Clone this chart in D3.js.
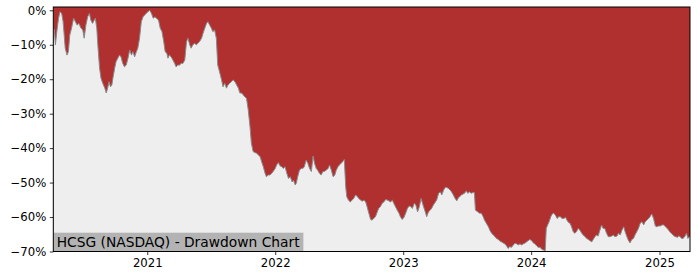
<!DOCTYPE html>
<html lang="en">
<head>
<meta charset="UTF-8">
<title>HCSG Drawdown</title>
<script src="https://cdn.jsdelivr.net/npm/d3@7"></script>
<style>
  body { margin: 0; background: #fff; }
  svg text { font-family: "DejaVu Sans", sans-serif; fill: #000; }
</style>
</head>
<body>
<svg id="chart"></svg>
<script>
var W = 700, H = 280;
var margin = {left: 53.3, right: 10, top: 7, bottom: 28.5};

var title = "HCSG (NASDAQ) - Drawdown Chart";
var yTicks = [0, -10, -20, -30, -40, -50, -60, -70];
var xTicks = ["2021-01-01", "2022-01-01", "2023-01-01", "2024-01-01", "2025-01-01"];

// drawdown in percent
var dates = [
  "2020-04-08","2020-04-11","2020-04-14","2020-04-18","2020-04-23","2020-04-27","2020-05-02","2020-05-06","2020-05-12","2020-05-17",
  "2020-05-21","2020-05-25","2020-05-30","2020-06-05","2020-06-10","2020-06-15","2020-06-20","2020-06-26","2020-07-01","2020-07-05",
  "2020-07-10","2020-07-15","2020-07-20","2020-07-24","2020-07-29","2020-08-03","2020-08-06","2020-08-10","2020-08-13","2020-08-18",
  "2020-08-22","2020-08-27","2020-09-02","2020-09-06","2020-09-10","2020-09-14","2020-09-18","2020-09-22","2020-09-25","2020-09-30",
  "2020-10-04","2020-10-09","2020-10-14","2020-10-18","2020-10-23","2020-10-28","2020-11-02","2020-11-07","2020-11-12","2020-11-17",
  "2020-11-21","2020-11-26","2020-12-01","2020-12-05","2020-12-10","2020-12-15","2020-12-20","2020-12-24","2020-12-29","2021-01-03",
  "2021-01-08","2021-01-13","2021-01-18","2021-01-23","2021-01-27","2021-02-02","2021-02-07","2021-02-12","2021-02-17","2021-02-21",
  "2021-02-26","2021-03-01","2021-03-05","2021-03-10","2021-03-15","2021-03-20","2021-03-24","2021-03-29","2021-04-03","2021-04-08",
  "2021-04-13","2021-04-18","2021-04-23","2021-04-27","2021-05-02","2021-05-06","2021-05-11","2021-05-16","2021-05-21","2021-05-25",
  "2021-05-30","2021-06-05","2021-06-09","2021-06-14","2021-06-19","2021-06-23","2021-06-28","2021-07-03","2021-07-07","2021-07-12",
  "2021-07-17","2021-07-21","2021-07-26","2021-08-01","2021-08-05","2021-08-10","2021-08-15","2021-08-19","2021-08-24","2021-08-29",
  "2021-09-03","2021-09-08","2021-09-13","2021-09-18","2021-09-22","2021-09-27","2021-10-02","2021-10-06","2021-10-11","2021-10-16",
  "2021-10-21","2021-10-25","2021-10-30","2021-11-04","2021-11-09","2021-11-14","2021-11-19","2021-11-23","2021-11-28","2021-12-03",
  "2021-12-07","2021-12-12","2021-12-17","2021-12-22","2021-12-26","2022-01-01","2022-01-05","2022-01-10","2022-01-15","2022-01-20",
  "2022-01-24","2022-01-29","2022-02-03","2022-02-08","2022-02-13","2022-02-18","2022-02-22","2022-02-27","2022-03-02","2022-03-06",
  "2022-03-11","2022-03-16","2022-03-21","2022-03-25","2022-03-30","2022-04-04","2022-04-09","2022-04-14","2022-04-19","2022-04-23",
  "2022-04-28","2022-05-02","2022-05-07","2022-05-12","2022-05-17","2022-05-21","2022-05-26","2022-06-01","2022-06-05","2022-06-10",
  "2022-06-15","2022-06-20","2022-06-24","2022-06-29","2022-07-03","2022-07-08","2022-07-13","2022-07-17","2022-07-21","2022-07-24",
  "2022-07-29","2022-08-03","2022-08-08","2022-08-13","2022-08-18","2022-08-22","2022-08-27","2022-09-02","2022-09-06","2022-09-11",
  "2022-09-16","2022-09-20","2022-09-25","2022-09-30","2022-10-04","2022-10-09","2022-10-14","2022-10-19","2022-10-23","2022-10-28",
  "2022-11-02","2022-11-07","2022-11-12","2022-11-17","2022-11-21","2022-11-26","2022-12-01","2022-12-05","2022-12-10","2022-12-15",
  "2022-12-20","2022-12-24","2022-12-29","2023-01-03","2023-01-08","2023-01-13","2023-01-18","2023-01-23","2023-01-27","2023-02-02",
  "2023-02-06","2023-02-11","2023-02-16","2023-02-21","2023-02-25","2023-02-28","2023-03-05","2023-03-09","2023-03-14","2023-03-19",
  "2023-03-23","2023-03-28","2023-04-03","2023-04-07","2023-04-12","2023-04-17","2023-04-21","2023-04-26","2023-05-01","2023-05-05",
  "2023-05-10","2023-05-15","2023-05-19","2023-05-24","2023-05-29","2023-06-03","2023-06-08","2023-06-11","2023-06-16","2023-06-21",
  "2023-06-25","2023-06-30","2023-07-04","2023-07-09","2023-07-14","2023-07-19","2023-07-23","2023-07-26","2023-08-02","2023-08-07",
  "2023-08-12","2023-08-17","2023-08-21","2023-08-26","2023-09-01","2023-09-05","2023-09-10","2023-09-15","2023-09-20","2023-09-24",
  "2023-09-29","2023-10-03","2023-10-08","2023-10-13","2023-10-18","2023-10-23","2023-10-27","2023-11-01","2023-11-06","2023-11-11",
  "2023-11-16","2023-11-21","2023-11-25","2023-11-30","2023-12-05","2023-12-09","2023-12-14","2023-12-19","2023-12-23","2023-12-28",
  "2024-01-03","2024-01-07","2024-01-12","2024-01-17","2024-01-21","2024-01-26","2024-02-01","2024-02-05","2024-02-10","2024-02-13",
  "2024-02-17","2024-02-21","2024-02-26","2024-03-01","2024-03-05","2024-03-10","2024-03-15","2024-03-20","2024-03-24","2024-03-29",
  "2024-04-03","2024-04-08","2024-04-13","2024-04-18","2024-04-21","2024-04-25","2024-04-30","2024-05-04","2024-05-09","2024-05-14",
  "2024-05-19","2024-05-23","2024-05-28","2024-06-03","2024-06-07","2024-06-12","2024-06-17","2024-06-22","2024-06-26","2024-07-01",
  "2024-07-05","2024-07-10","2024-07-15","2024-07-20","2024-07-24","2024-07-29","2024-08-03","2024-08-08","2024-08-13","2024-08-18",
  "2024-08-22","2024-08-27","2024-09-02","2024-09-06","2024-09-11","2024-09-16","2024-09-21","2024-09-25","2024-09-30","2024-10-04",
  "2024-10-09","2024-10-14","2024-10-19","2024-10-23","2024-10-28","2024-11-02","2024-11-07","2024-11-12","2024-11-17","2024-11-21",
  "2024-11-26","2024-12-01","2024-12-05","2024-12-10","2024-12-15","2024-12-20","2024-12-24","2024-12-29","2025-01-03","2025-01-08",
  "2025-01-13","2025-01-18","2025-01-23","2025-01-27","2025-02-01","2025-02-06","2025-02-11","2025-02-16","2025-02-21","2025-02-25",
  "2025-03-01","2025-03-05","2025-03-09","2025-03-14","2025-03-19","2025-03-23","2025-03-29"
];
var drawdown = [
  -5.3,-5.7,-10,-6.2,-2.3,-0.4,-0.9,-3.3,-11,-13,
  -12,-7.2,-5.2,-2.3,-3.3,-4.3,-3.8,-5.2,-5.7,-8.1,
  -4.3,-1.9,-0.9,-2.8,-3.8,-2.8,-2.3,-5.2,-10,-16.8,
  -19.7,-21.2,-22.6,-24,-22.6,-20.7,-22.2,-21.7,-19.7,-16.8,
  -14.9,-13.9,-13,-13.5,-15.4,-16.4,-15.9,-13.9,-11.5,-13,
  -12,-13.5,-12,-11,-8.1,-3.3,-1.9,-1.4,-0.9,-0.4,
  0,-0.9,-2.3,-1.9,-2.3,-2.8,-5.2,-6.2,-9.1,-12,
  -12.5,-13.9,-13,-13.5,-14.4,-15.4,-16.4,-15.9,-15.9,-15.4,
  -15.4,-14.4,-9.1,-8.1,-10,-11,-10,-9.6,-10,-9.6,
  -9.1,-8.1,-6.7,-5.2,-3.8,-3.3,-4.3,-5.2,-6.2,-5.7,
  -8.1,-15.9,-17.8,-20.2,-22.2,-21.2,-22.6,-21.7,-21.2,-20.7,
  -20.2,-20.7,-21.7,-22.6,-24,-24,-24.6,-25.1,-25.5,-28.9,
  -33.8,-38.6,-41,-41.3,-41.5,-42,-42.5,-43.9,-45.4,-47.3,
  -48.3,-47.8,-47.8,-47.3,-46.8,-45.9,-44.9,-44.2,-45.2,-45.4,
  -45.9,-45.4,-47.3,-48.8,-48.3,-49.8,-49.3,-50.7,-50.2,-48.3,
  -46.4,-45.9,-45.9,-45.4,-43.5,-44.4,-45.9,-46.8,-42.3,-44.4,
  -45.9,-46.4,-47.3,-47.8,-46.8,-46.8,-46.4,-45.9,-44.9,-46.4,
  -48.3,-47.8,-46.4,-45.4,-44.9,-44.4,-43.9,-43.3,-51.2,-54.1,
  -55.1,-55.6,-55.1,-54.6,-53.6,-53.9,-54.6,-55.1,-55.4,-55.1,
  -55.6,-57,-58.9,-60.7,-60.9,-60.4,-59.9,-58.5,-57.5,-57,
  -56,-55.6,-54.9,-55.1,-55.3,-55.6,-55.1,-56,-57,-58,
  -58.9,-59.9,-60.7,-60.1,-58.9,-57.5,-56.8,-57,-57.5,-56,
  -56.5,-58.5,-57,-54.6,-56,-57,-58.5,-59.9,-58.5,-58,
  -57.5,-56.5,-55.6,-54.9,-53.1,-52.7,-53.6,-52.2,-51.4,-51.4,
  -51.7,-52.2,-52.7,-53.6,-54.6,-55.3,-54.3,-54.1,-53.6,-53.3,
  -53.1,-52.4,-53.1,-52.7,-53.1,-52.9,-52.9,-58,-58.5,-58.9,
  -58.9,-59.9,-60.9,-61.8,-62.8,-63.8,-64.7,-65.2,-65.7,-66.2,
  -66.5,-66.9,-67.2,-67.5,-67.8,-68.4,-69.1,-68.6,-68.8,-68.1,
  -67.6,-67.8,-68.1,-67.8,-68.1,-67.8,-67.6,-67.2,-66.9,-66.5,
  -66.9,-67.5,-67.8,-68.4,-68.8,-68.8,-69.4,-69.6,-69.8,-63.3,
  -62.3,-61.4,-59.9,-59.1,-58.9,-59.4,-60.4,-59.9,-59.9,-60.4,
  -60.4,-60.1,-61.1,-61.7,-61.8,-62.8,-64.3,-64.7,-64.3,-63.3,
  -63.8,-64.5,-65.2,-65.7,-66.2,-66.5,-66.9,-67.2,-66.5,-65.7,
  -65.2,-65.5,-63.8,-62.3,-63.3,-63.3,-64.7,-65.7,-65.7,-65.5,
  -65.2,-65.7,-65.5,-64.7,-65.2,-63.8,-62.8,-64.3,-65.7,-66.7,
  -67.5,-66.5,-66.2,-65.2,-64.3,-63.3,-61.8,-61.4,-62.3,-61.4,
  -60.9,-60.4,-59.9,-59.1,-60.4,-62.6,-62.8,-62.6,-62.6,-62.3,
  -62.3,-62.8,-63.3,-63.8,-64.5,-64.9,-65.5,-65.7,-65.9,-65.5,
  -65.7,-66.2,-66.2,-65.7,-64.7,-66.2,-65.5
];

var parse = d3.timeParse("%Y-%m-%d");
var data = dates.map(function(d, i) { return {date: parse(d), value: drawdown[i]}; });

var svg = d3.select("#chart").attr("width", W).attr("height", H);
var plotW = W - margin.left - margin.right,
    plotH = H - margin.top - margin.bottom;

var x = d3.scaleTime()
  .domain(d3.extent(data, function(d) { return d.date; }))
  .range([margin.left, margin.left + plotW]);
var y = d3.scaleLinear()
  .domain([-70, 0.96])
  .range([margin.top + plotH, margin.top]);

svg.append("defs").append("clipPath").attr("id", "clip")
  .append("rect")
  .attr("x", margin.left).attr("y", margin.top)
  .attr("width", plotW).attr("height", plotH);

var g = svg.append("g").attr("clip-path", "url(#clip)");

// red background = drawdown region
g.append("rect")
  .attr("x", margin.left).attr("y", margin.top)
  .attr("width", plotW).attr("height", plotH)
  .attr("fill", "#b03030");

var area = d3.area()
  .x(function(d) { return x(d.date); })
  .y0(y(-70))
  .y1(function(d) { return y(d.value); });

g.append("path").datum(data)
  .attr("d", area)
  .attr("fill", "#eeeeee");

var line = d3.line()
  .x(function(d) { return x(d.date); })
  .y(function(d) { return y(d.value); });

g.append("path").datum(data)
  .attr("d", line)
  .attr("fill", "none")
  .attr("stroke", "#8a8a8a")
  .attr("stroke-width", 1);

// label box
var lab = svg.append("g");
var labText = lab.append("text")
  .attr("x", margin.left + 3.4)
  .attr("y", y(-70) - 4.3)
  .style("font-size", "13.8px")
  .attr("fill", "#111")
  .text(title);
var bb = labText.node().getBBox();
lab.insert("rect", "text")
  .attr("x", margin.left)
  .attr("y", y(-70) - 18.8)
  .attr("width", bb.width + 6.6)
  .attr("height", 18.8)
  .attr("fill", "#b3b3b3");

// axes
var yAxis = d3.axisLeft(y)
  .tickValues(yTicks)
  .tickSize(3.5)
  .tickPadding(3.5)
  .tickFormat(function(d) { return (d < 0 ? "\u2212" + (-d) : d) + "%"; });
var ya = svg.append("g")
  .attr("transform", "translate(" + margin.left + ",0)")
  .call(yAxis);
ya.select(".domain").remove();
ya.selectAll("text").style("font-size", "11.7px").attr("fill", "#000");
ya.selectAll("line").attr("stroke", "#000").attr("stroke-width", 0.8);

var xAxis = d3.axisBottom(x)
  .tickValues(xTicks.map(parse))
  .tickSize(3.5)
  .tickPadding(3.5)
  .tickFormat(d3.timeFormat("%Y"));
var xa = svg.append("g")
  .attr("transform", "translate(0," + (margin.top + plotH) + ")")
  .call(xAxis);
xa.select(".domain").remove();
xa.selectAll("text").style("font-size", "11.7px").attr("fill", "#000");
xa.selectAll("line").attr("stroke", "#000").attr("stroke-width", 0.8);

// frame
svg.append("rect")
  .attr("x", margin.left).attr("y", margin.top)
  .attr("width", plotW).attr("height", plotH)
  .attr("fill", "none")
  .attr("stroke", "#000")
  .attr("stroke-width", 1);
</script>
</body>
</html>
